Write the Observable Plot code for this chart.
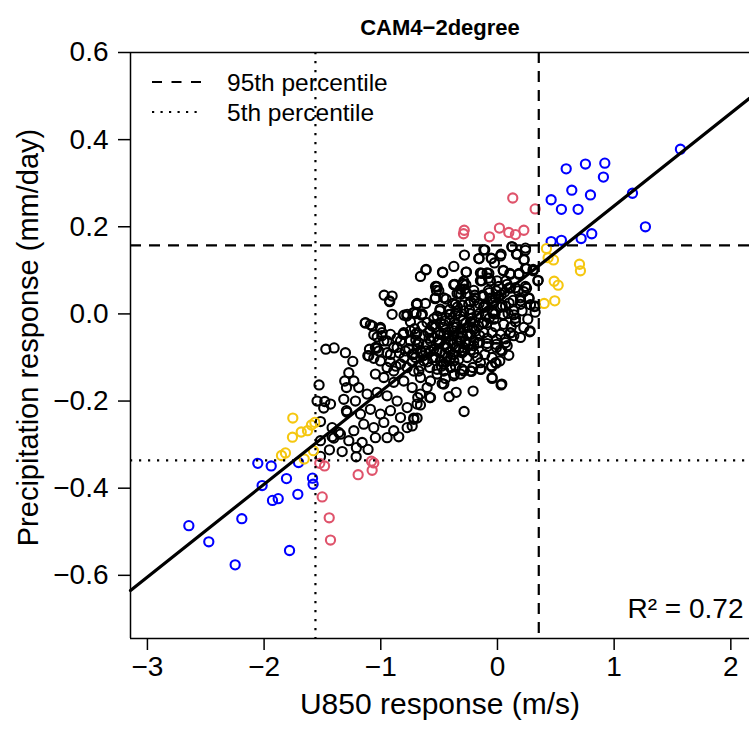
<!DOCTYPE html>
<html><head><meta charset="utf-8">
<script src="https://cdn.jsdelivr.net/npm/d3@7"></script>
<script src="https://cdn.jsdelivr.net/npm/@observablehq/plot@0.6"></script>
<style>
body{margin:0;background:#fff;}
#wrap{position:relative;width:749px;height:730px;overflow:hidden;}
#legend{position:absolute;left:0;top:0;}
</style></head><body><div id="wrap"></div>
<script>
const title = "CAM4\u22122degree";
const xLabel = "U850 response (m/s)";
const yLabel = "Precipitation response (mm/day)";
const legendLabels = ["95th percentile", "5th percentile"];
const r2Label = "R\u00b2 = 0.72";
const xTicks = [-3, -2, -1, 0, 1, 2];
const yTicks = [-0.6, -0.4, -0.2, 0, 0.2, 0.4, 0.6];
const xDomain = [-3.145, 2.16];
const yDomain = [-0.745, 0.6];
const p95 = {x: 0.354, y: 0.1575};
const p05 = {x: -1.56, y: -0.336};
const fit = {intercept: 0.035, slope: 0.213};

const black = [
[0.123,0.154],[-0.109,0.147],[0.240,0.146],[-0.283,0.135],[-0.157,0.127],[-0.054,0.128],[0.031,0.137],[0.163,0.137],[0.229,0.125],[-0.026,0.117],
[-0.374,0.109],[-0.471,0.096],[-0.614,0.101],[-0.660,0.086],[-0.269,0.096],[-0.146,0.094],[-0.089,0.094],[0.051,0.099],[0.106,0.093],[0.186,0.093],
[0.240,0.104],[0.306,0.099],[-0.077,0.082],[-0.134,0.076],[-0.003,0.076],[0.071,0.076],[-0.289,0.075],[-0.271,0.067],[-0.371,0.067],[-0.517,0.062],
[-0.523,0.054],[0.346,0.076],[0.249,0.059],[0.177,0.053],[0.111,0.059],[0.226,0.051],[-0.077,0.054],[-0.203,0.054],[-0.317,0.057],[-0.011,0.053],
[-0.126,0.043],[-0.191,0.037],[-0.314,0.045],[-0.440,0.034],[-0.534,0.035],[-0.617,0.024],[-0.694,0.022],[-0.491,0.011],[-0.383,0.024],[-0.343,0.016],
[-0.231,0.028],[-0.063,0.036],[0.031,0.044],[0.100,0.025],[0.134,0.031],[0.197,0.030],[0.271,0.035],[0.283,0.021],[0.323,0.004],[0.280,-0.039],
[0.260,-0.012],[0.154,-0.010],[0.091,0.001],[0.049,-0.003],[-0.037,0.005],[-0.117,0.015],[-0.157,0.024],[-0.289,0.007],[-0.414,-0.001],[-0.546,-0.011],
[-0.651,-0.003],[-0.697,0.001],[-0.777,-0.005],[-0.971,0.043],[-0.903,0.041],[-0.926,0.030],[-0.903,-0.001],[-0.800,-0.003],[-0.746,-0.018],[-0.711,-0.034],
[-0.646,-0.028],[-0.594,-0.043],[-0.546,-0.025],[-0.466,-0.031],[-0.409,-0.015],[-0.360,-0.024],[-0.294,-0.015],[-0.231,-0.018],[-0.163,-0.028],[-0.091,-0.021],
[-0.017,-0.029],[0.054,-0.024],[0.117,-0.030],[0.140,-0.050],[0.069,-0.057],[-0.006,-0.058],[-0.089,-0.056],[-0.151,-0.050],[-0.234,-0.047],[-0.309,-0.043],
[-0.374,-0.050],[-0.440,-0.056],[-0.511,-0.066],[-0.586,-0.056],[-0.674,-0.066],[-0.746,-0.062],[-0.809,-0.047],[-0.860,-0.056],[-1.003,-0.034],[-1.031,-0.053],
[-1.071,-0.028],[-1.134,-0.021],[-0.991,-0.050],[-0.946,-0.062],[-1.034,-0.079],[-1.111,-0.096],[-1.097,-0.081],[-0.917,-0.093],[-0.860,-0.077],[-0.789,-0.085],
[-0.731,-0.093],[-0.689,-0.081],[-0.637,-0.096],[-0.574,-0.086],[-0.494,-0.089],[-0.431,-0.077],[-0.360,-0.077],[-0.303,-0.089],[-0.231,-0.083],[-0.171,-0.100],
[-0.109,-0.093],[-0.046,-0.100],[0.020,-0.108],[0.040,-0.085],[-0.009,-0.077],[0.083,-0.073],[-0.089,-0.075],[-0.146,-0.112],[-0.211,-0.123],[-0.223,-0.132],
[-0.146,-0.127],[-0.049,-0.121],[-0.011,-0.113],[-0.046,-0.146],[0.037,-0.161],[-0.209,-0.177],[-0.286,-0.224],[-0.354,-0.180],[-0.414,-0.190],[-0.460,-0.161],
[-0.369,-0.138],[-0.303,-0.127],[-0.403,-0.122],[-0.460,-0.115],[-0.531,-0.100],[-0.580,-0.123],[-0.517,-0.138],[-0.574,-0.154],[-0.660,-0.146],[-0.717,-0.131],
[-0.774,-0.123],[-0.831,-0.115],[-0.889,-0.131],[-0.946,-0.123],[-1.003,-0.108],[-1.046,-0.138],[-0.974,-0.146],[-0.889,-0.157],[-0.803,-0.154],[-0.731,-0.169],
[-0.660,-0.184],[-0.580,-0.192],[-0.689,-0.207],[-0.774,-0.215],[-0.860,-0.200],[-0.946,-0.188],[-1.031,-0.180],[-1.117,-0.184],[-1.189,-0.169],[-1.231,-0.154],
[-1.294,-0.169],[-1.274,-0.135],[-1.240,-0.109],[-1.303,-0.089],[-1.471,-0.081],[-1.400,-0.078],[-1.529,-0.163],[-1.546,-0.200],[-1.480,-0.201],[-1.431,-0.207],
[-1.489,-0.216],[-1.517,-0.247],[-1.317,-0.196],[-1.294,-0.222],[-1.217,-0.200],[-1.174,-0.230],[-1.089,-0.219],[-1.003,-0.230],[-0.917,-0.222],[-0.831,-0.238],
[-0.717,-0.242],[-0.974,-0.249],[-1.060,-0.261],[-1.146,-0.253],[-1.231,-0.268],[-1.346,-0.276],[-1.403,-0.285],[-0.889,-0.268],[-0.774,-0.261],[-0.946,-0.284],
[-1.046,-0.284],
[-0.489,-0.047],[-0.446,-0.070],[-0.403,-0.062],[-0.346,-0.062],[-0.274,-0.062],[-0.374,-0.093],[-0.431,-0.100],[-0.331,-0.104],[-0.260,-0.100],[-0.489,-0.108],
[-0.546,-0.081],[-0.603,-0.070],[-0.646,-0.089],[-0.517,-0.127],[-0.317,-0.138],[-0.203,-0.073],[-0.169,-0.066],[-0.203,-0.035],[-0.260,-0.031],[-0.317,-0.035],
[-0.374,-0.039],[-0.431,-0.043],[-0.317,-0.005],[-0.231,0.000],[-0.174,-0.005],[-0.103,-0.005],[-0.031,-0.012],[0.026,0.015],[-0.031,0.026],[0.140,0.007],
[0.211,0.007],[0.226,-0.031],[0.197,-0.054],[0.111,-0.043],[0.026,-0.047],[-0.046,-0.043],[-0.117,-0.043],[-0.203,-0.062],
[-1.517,-0.327],[-1.440,-0.312],[-1.331,-0.316],[-1.209,-0.307],[-1.211,-0.328],[-1.109,-0.311],[-1.160,-0.295],[-1.274,-0.291],[-1.417,-0.282],[-1.517,-0.291],
[-0.846,-0.282],[-1.309,-0.154],[-1.289,-0.226],[-1.417,-0.261],[-1.360,-0.272],
[-1.131,-0.020],[-1.089,-0.025],[-1.060,-0.048],[-1.003,-0.031],[-0.989,-0.043],[-0.917,-0.047],[-0.974,-0.062],[-1.046,-0.077],[-1.017,-0.085],[-0.946,-0.089],
[-1.103,-0.096],[-1.060,-0.102],[-0.889,-0.077],[-0.831,-0.062],[-0.803,-0.043],[-0.746,-0.039],[-0.703,-0.047],[-0.774,-0.001],[-0.717,0.003],[-0.646,-0.001],
[-0.603,-0.020],[-0.560,-0.028],[-0.517,-0.005],[-0.446,-0.016],[-0.403,-0.001],[-0.346,0.007],[-0.374,-0.031],[-0.460,-0.047],[-0.546,-0.054],[-0.660,-0.085],
[-0.717,-0.093],[-0.517,-0.085],[-0.431,-0.077],[-0.317,-0.062],[-0.260,-0.047],[-0.289,-0.085],[-0.923,0.028],[-0.689,0.024],[-0.523,0.063],[-0.503,0.053],
[-0.366,0.068],[-0.346,0.047],[-0.289,0.068],[-0.260,0.047],
[-0.574,-0.192],[-0.660,-0.209],[-0.683,-0.192],[-0.717,-0.239],[-0.689,-0.239],[-0.731,-0.257],[-0.474,-0.160],[-0.446,-0.148],[-0.046,-0.148],[0.031,-0.163],
[-0.051,-0.119],[-0.017,-0.112],[-0.140,-0.127],[0.097,-0.095],[0.026,-0.083],[-0.009,-0.070],[0.069,-0.066],[-0.089,-0.068],[-0.154,-0.066],[-0.203,-0.089],
[-0.231,-0.131],[-0.289,-0.131],[-0.374,-0.142],[-0.403,-0.123],[0.277,-0.041],[0.111,-0.044],[0.154,-0.018],[0.140,-0.002],[0.049,-0.001],[0.317,0.017],
[0.197,0.022],[-0.040,0.001],[-0.117,-0.020],[-0.217,-0.031],[-0.231,-0.047],[-0.546,-0.025],[-0.494,0.007],[-0.646,0.000],[-0.717,0.003],[-0.689,-0.043],
[-0.689,-0.070],[-0.703,-0.100],[-0.674,-0.131],[-0.631,-0.108],[-0.603,-0.169],[-0.460,-0.131],[-0.374,-0.108],[-0.403,-0.085],[-0.289,-0.077],[-0.317,-0.054],
[-0.460,-0.024],[-0.574,-0.062],[-0.617,-0.085],
[-0.117,0.147],[-0.160,0.127],[-0.051,0.127],[0.026,0.133],[0.126,0.154],[0.240,0.151],[0.169,0.137],[0.226,0.124],[-0.611,0.102],[-0.469,0.095],
[-0.266,0.096],[-0.131,0.093],[-0.074,0.093],[0.049,0.100],[0.111,0.091],[0.183,0.091],[0.249,0.104],[0.349,0.077],[-0.531,0.063],[-0.374,0.067],
[-0.297,0.070],[-0.146,0.076],[-0.060,0.076],[0.011,0.063],[0.083,0.068],[0.154,0.060],[0.240,0.063],[0.269,0.037],[0.197,0.037],[-0.460,0.037],
[-0.531,0.037],[-0.331,0.047],[-0.283,0.057],[-0.194,0.043],[-0.069,0.049],[-0.017,0.037],[-0.689,0.022],[-0.360,0.022],[-0.246,0.022],[-0.117,0.018],
[0.069,0.018],[0.326,0.018],[0.306,0.102],
[-0.550,-0.100],[-0.500,-0.060],[-0.450,-0.090],[-0.420,-0.050],[-0.380,-0.070],[-0.350,-0.030],[-0.330,-0.080],[-0.300,-0.050],[-0.270,-0.020],[-0.250,-0.070],
[-0.220,-0.010],[-0.190,-0.040],[-0.160,0.000],[-0.130,-0.020],[-0.100,0.020],[-0.070,-0.010],[-0.040,0.030],[-0.020,0.000],[0.010,0.040],[0.040,0.020],
[-0.600,-0.110],[-0.630,-0.050],[-0.660,-0.120],[-0.700,-0.060],[-0.730,-0.110],[-0.760,-0.080],[-0.800,-0.100],[-0.840,-0.090],[-0.870,-0.120],[-0.920,-0.110],
[-0.480,-0.120],[-0.440,-0.110],[-0.400,-0.100],[-0.360,-0.120],[-0.580,-0.040],[-0.530,-0.030],[-0.490,-0.020],[-0.410,0.010],[-0.360,0.000],[-0.300,0.020],
[-0.240,0.010],[-0.200,0.030],[-0.120,0.040],[0.060,0.050],[0.100,0.060]
];

const blue = [
[1.568,0.378],[0.589,0.333],[0.754,0.344],[0.920,0.346],[0.908,0.314],[0.637,0.284],[0.797,0.273],[1.157,0.277],[0.460,0.262],[0.548,0.240],
[0.691,0.240],[1.268,0.200],[0.808,0.184],[0.717,0.173],[0.460,0.166],[0.548,0.169],
[-2.054,-0.343],[-1.939,-0.349],[-1.705,-0.341],[-2.017,-0.394],[-1.808,-0.378],[-1.585,-0.377],[-1.580,-0.391],[-1.928,-0.428],[-1.879,-0.424],[-1.711,-0.414],
[-2.645,-0.486],[-2.191,-0.470],[-2.474,-0.523],[-1.782,-0.543],[-2.248,-0.576]
];

const red = [
[0.131,0.266],[0.323,0.241],[-0.285,0.192],[-0.291,0.184],[0.017,0.197],[-0.069,0.177],[0.097,0.187],[0.154,0.182],[0.226,0.192],
[-1.523,-0.343],[-1.482,-0.349],[-1.080,-0.338],[-1.060,-0.342],[-1.194,-0.369],[-1.074,-0.359],[-1.502,-0.420],[-1.442,-0.468],[-1.431,-0.519]
];

const yellow = [
[0.420,0.150],[0.434,0.129],[0.480,0.124],[0.703,0.114],[0.711,0.099],[0.486,0.075],[0.520,0.066],[0.491,0.030],[0.400,0.024],
[-1.754,-0.239],[-1.757,-0.283],[-1.682,-0.271],[-1.628,-0.268],[-1.594,-0.255],[-1.565,-0.249],[-1.851,-0.325],[-1.817,-0.319],[-1.656,-0.333],[-1.577,-0.314]
];

const groups = [
  {data: black, color: "#000000"},
  {data: blue, color: "#0000FF"},
  {data: red, color: "#DF536B"},
  {data: yellow, color: "#F5C710"}
];

const minus = s => String(s).replace("-", "\u2212");
const fitLine = xDomain.map(x => ({x, y: fit.intercept + fit.slope * x}));
const FONT = "'Liberation Sans', Arial, Helvetica, sans-serif";

const chart = Plot.plot({
  width: 749,
  height: 730,
  marginLeft: 130,
  marginRight: 0,
  marginTop: 52,
  marginBottom: 92,
  style: {fontFamily: FONT, background: "#fff", color: "#000"},
  x: {domain: xDomain},
  y: {domain: yDomain},
  marks: [
    ...groups.map(g => Plot.dot(g.data, {x: d => d[0], y: d => d[1], r: 4.6, stroke: g.color, strokeWidth: 2.1, fill: "none"})),
    Plot.ruleX([p95.x], {stroke: "#000", strokeWidth: 2.2, strokeDasharray: "11,8"}),
    Plot.ruleY([p95.y], {stroke: "#000", strokeWidth: 2.2, strokeDasharray: "11,8"}),
    Plot.ruleX([p05.x], {stroke: "#000", strokeWidth: 2.2, strokeDasharray: "2.2,6.8"}),
    Plot.ruleY([p05.y], {stroke: "#000", strokeWidth: 2.2, strokeDasharray: "2.2,6.8"}),
    Plot.line(fitLine, {x: "x", y: "y", stroke: "#000", strokeWidth: 3.2}),
    Plot.ruleX([xDomain[0]], {stroke: "#000", strokeWidth: 1.5}),
    Plot.ruleY(yDomain, {stroke: "#000", strokeWidth: 1.5}),
    Plot.axisX({ticks: xTicks, tickSize: 12, tickPadding: 6, fontSize: 28, tickFormat: d => minus(d), label: null, strokeWidth: 1.5}),
    Plot.axisY({ticks: yTicks, tickSize: 12, tickPadding: 10, fontSize: 28, tickFormat: d => minus(d.toFixed(1)), label: null, strokeWidth: 1.5}),
    Plot.text([title], {frameAnchor: "top", dy: -33, fontSize: 22, fontWeight: "bold"}),
    Plot.text([xLabel], {frameAnchor: "bottom", dy: 75, fontSize: 30}),
    Plot.text([yLabel], {frameAnchor: "left", dx: -102, dy: -8, rotate: -90, textAnchor: "middle", fontSize: 29}),
    Plot.text([r2Label], {frameAnchor: "bottom-right", dx: -6, dy: -21, textAnchor: "end", fontSize: 28})
  ]
});

const wrap = document.getElementById("wrap");
wrap.appendChild(chart);

const legendSvg = d3.create("svg").attr("id", "legend").attr("width", 749).attr("height", 730)
  .style("font-family", FONT);
const legendRows = [
  {label: legendLabels[0], dash: "10,9.5", y: 82},
  {label: legendLabels[1], dash: "2.2,6.3", y: 112}
];
for (const row of legendRows) {
  legendSvg.append("line").attr("x1", 152).attr("x2", 202).attr("y1", row.y).attr("y2", row.y)
    .attr("stroke", "#000").attr("stroke-width", 2.2).attr("stroke-dasharray", row.dash);
  legendSvg.append("text").attr("x", 227).attr("y", row.y).attr("dy", "0.35em")
    .attr("font-size", 24.5).text(row.label);
}
wrap.appendChild(legendSvg.node());
</script></body></html>
